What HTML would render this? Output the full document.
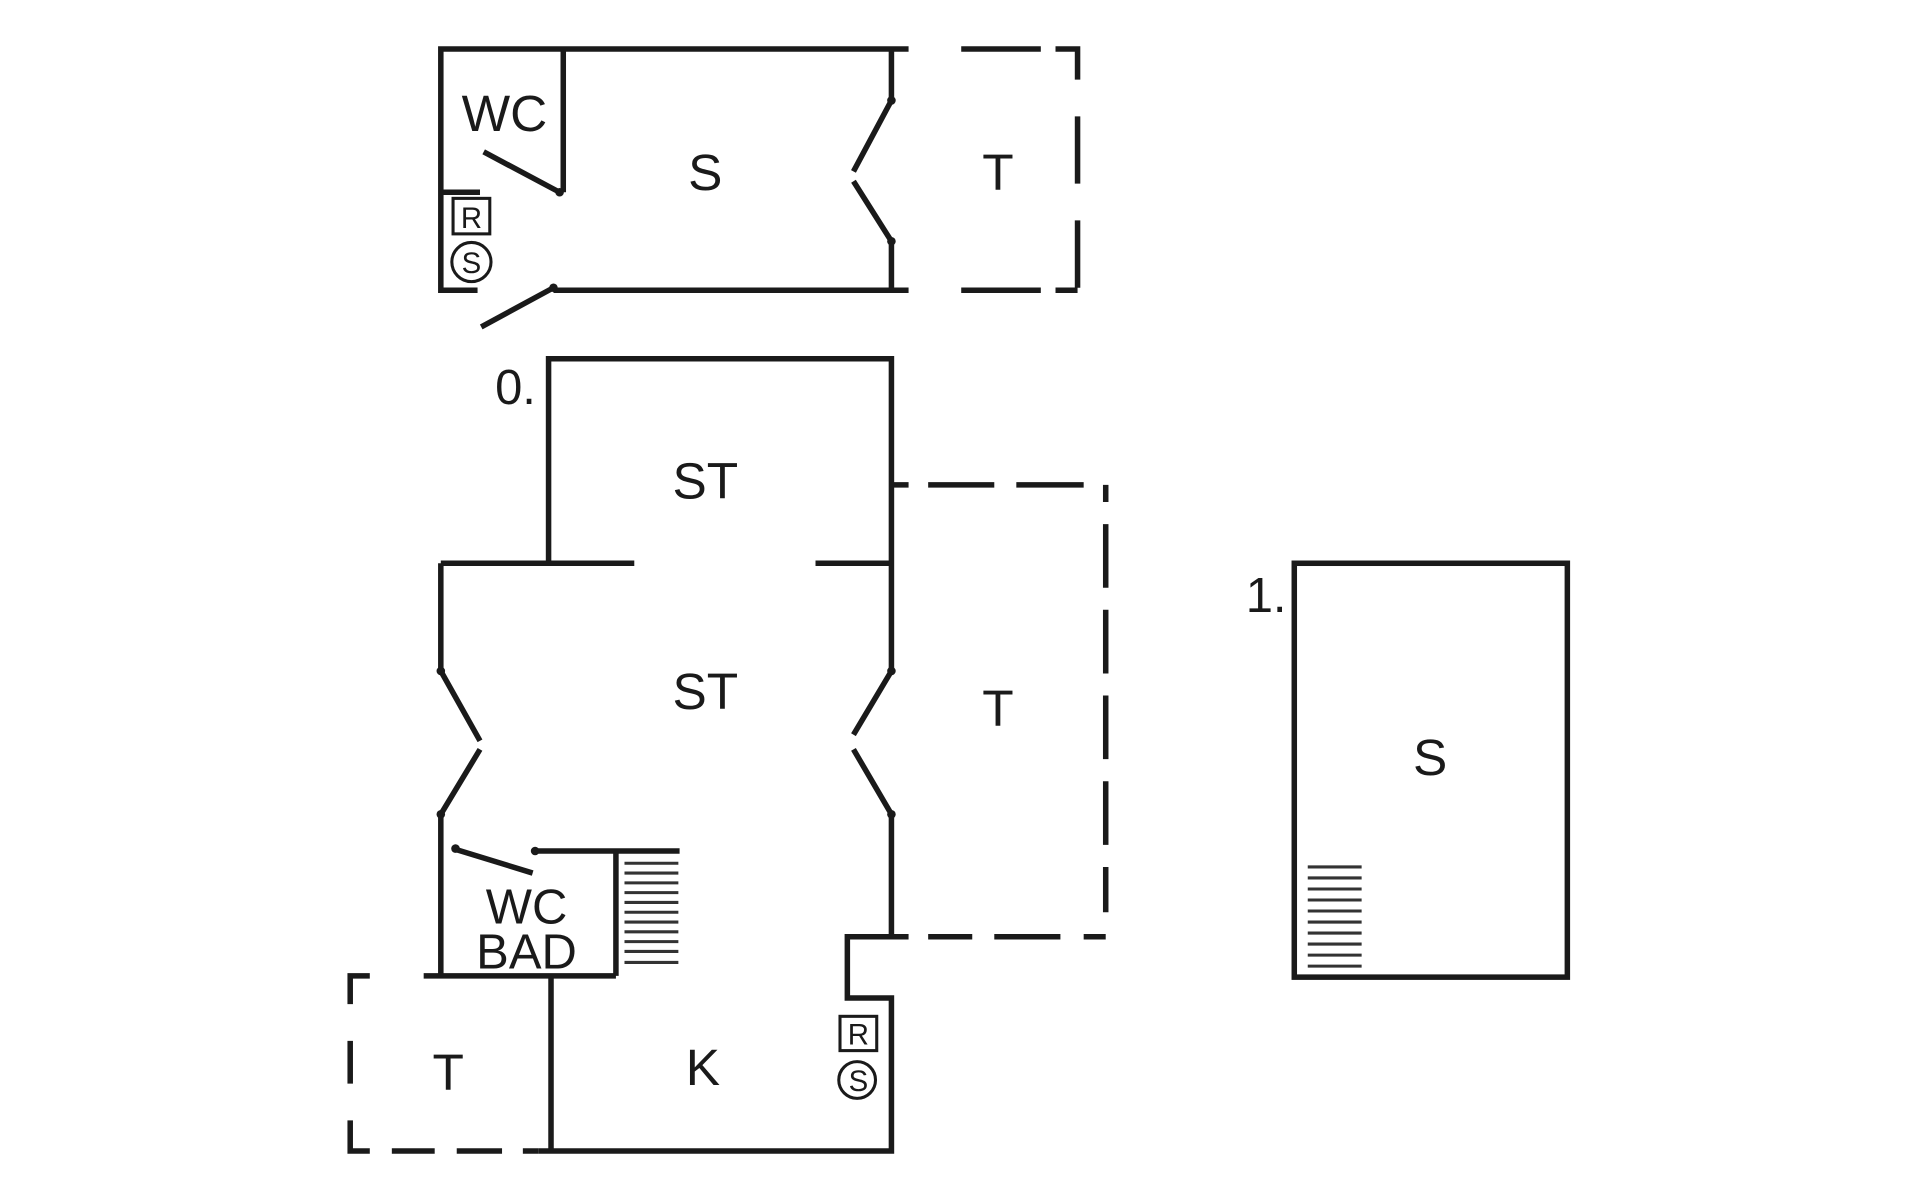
<!DOCTYPE html>
<html><head><meta charset="utf-8"><style>html,body{margin:0;padding:0;background:#fff}svg{display:block}</style></head>
<body>
<svg width="1920" height="1200" viewBox="0 0 1568 980" xmlns="http://www.w3.org/2000/svg">
<g stroke="#1a1a1a" stroke-width="4.5" fill="none" stroke-linecap="butt">
<!-- top plan -->
<path d="M742 40 H360 V237 H390"/>
<path d="M460 40 V157"/>
<path d="M395 124 L457 157"/>
<path d="M360 157 H392"/>
<path d="M393 267 L452 235"/>
<path d="M452 237 H742"/>
<path d="M728 40 V82 L697 140"/>
<path d="M697 148 L728 197 V237"/>
<path d="M785 40 H850 M862 40 H880 V65 M880 95 V150 M880 180 V235 M880 237 H862 M850 237 H785" />
<rect x="370" y="162" width="30" height="29" stroke-width="2.5"/>
<circle cx="385" cy="214" r="16" stroke-width="2.5"/>
<!-- lower plan -->
<path d="M448 460 V293 H728 V548 L697 600"/>
<path d="M697 612 L728 665 V765"/>
<path d="M360 460 H518 M666 460 H728"/>
<path d="M360 460 V548 L392 605"/>
<path d="M392 612 L360 665 V797"/>
<path d="M370 693 L435 713"/>
<path d="M435 695 H555"/>
<path d="M503 695 V797"/>
<path d="M346 797 H503"/>
<path d="M450 797 V940"/>
<path d="M742 765 H692 V815 H728 V940 H440"/>
<path d="M728 396 H742 M758 396 H812 M830 396 H885 M903 396 V410 M903 428 V480 M903 498 V550 M903 568 V620 M903 638 V690 M903 708 V745 M903 765 H885 M866 765 H812 M794 765 H758"/>
<path d="M302 797 H286 V820 M286 850 V885 M286 915 V940 H302 M320 940 H355 M373 940 H410 M427 940 H440"/>
<rect x="686" y="830" width="30" height="28" stroke-width="2.5"/>
<circle cx="700" cy="882" r="15" stroke-width="2.5"/>
<!-- right plan -->
<rect x="1057" y="460" width="223" height="338"/>
</g>
<g stroke="#333" stroke-width="2.5">
<path d="M510 705 H554 M510 713 H554 M510 721 H554 M510 729 H554 M510 737 H554 M510 745 H554 M510 753 H554 M510 761 H554 M510 769 H554 M510 777 H554 M510 786 H554"/>
<path d="M1068 708 H1112 M1068 717 H1112 M1068 726 H1112 M1068 735 H1112 M1068 744 H1112 M1068 753 H1112 M1068 762 H1112 M1068 771 H1112 M1068 780 H1112 M1068 789 H1112"/>
</g>
<g fill="#1a1a1a" font-family="'Liberation Sans', sans-serif" text-anchor="middle">
<circle cx="457" cy="157" r="3.5"/><circle cx="728" cy="82" r="3.5"/><circle cx="728" cy="197" r="3.5"/><circle cx="452" cy="235" r="3.5"/>
<circle cx="360" cy="548" r="3.5"/><circle cx="360" cy="665" r="3.5"/><circle cx="728" cy="548" r="3.5"/><circle cx="728" cy="665" r="3.5"/><circle cx="372" cy="693" r="3.5"/><circle cx="437" cy="695" r="3.5"/>
<text x="412" y="107" font-size="42">WC</text>
<text x="576" y="155" font-size="42">S</text>
<text x="815" y="155" font-size="42">T</text>
<text x="385" y="186" font-size="24">R</text>
<text x="385" y="223" font-size="24">S</text>
<text x="421" y="330" font-size="40">0.</text>
<text x="576" y="407" font-size="42">ST</text>
<text x="576" y="579" font-size="42">ST</text>
<text x="815" y="593" font-size="42">T</text>
<text x="430" y="754" font-size="40">WC</text>
<text x="430" y="791" font-size="40">BAD</text>
<text x="574" y="886" font-size="42">K</text>
<text x="366" y="890" font-size="42">T</text>
<text x="701" y="853" font-size="24">R</text>
<text x="701" y="891" font-size="24">S</text>
<text x="1034" y="500" font-size="40">1.</text>
<text x="1168" y="633" font-size="42">S</text>
</g>
</svg>
</body></html>
